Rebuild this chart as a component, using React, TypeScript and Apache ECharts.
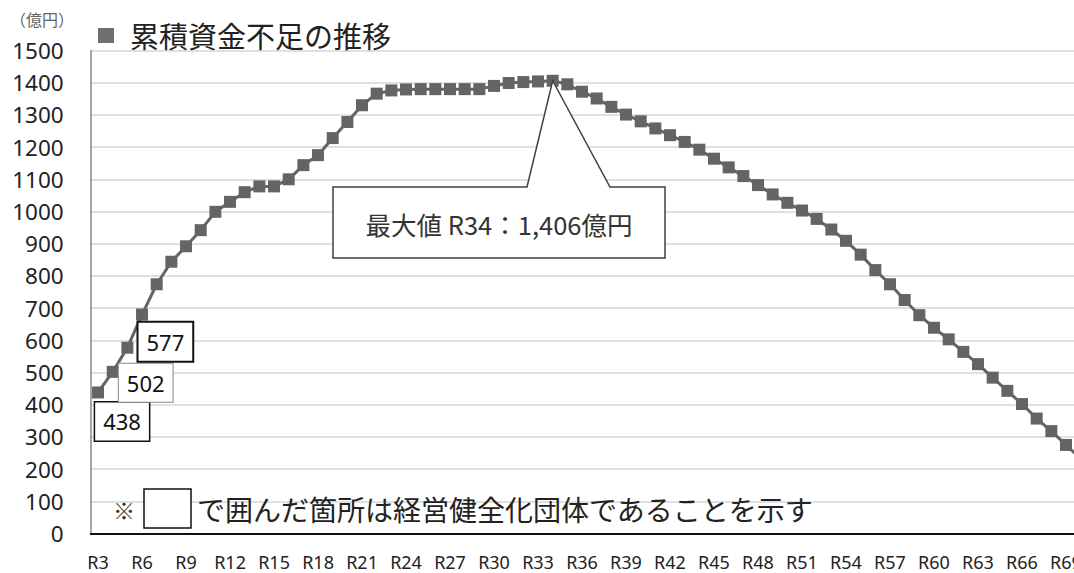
import React, { useEffect, useRef } from "react";
import * as echarts from "echarts";

const categories: string[] = [
  "R3","R4","R5","R6","R7","R8","R9","R10","R11","R12","R13","R14","R15","R16","R17","R18","R19","R20",
  "R21","R22","R23","R24","R25","R26","R27","R28","R29","R30","R31","R32","R33","R34","R35","R36","R37",
  "R38","R39","R40","R41","R42","R43","R44","R45","R46","R47","R48","R49","R50","R51","R52","R53","R54",
  "R55","R56","R57","R58","R59","R60","R61","R62","R63","R64","R65","R66","R67","R68","R69","R70",
];

const shortfall: number[] = [
  438, 502, 577, 680, 774, 844, 892, 942, 999, 1030, 1060, 1078, 1078, 1100, 1144, 1175, 1228, 1278,
  1330, 1366, 1376, 1379, 1380, 1380, 1380, 1380, 1380, 1390, 1399, 1402, 1404, 1406, 1395, 1372, 1351,
  1325, 1301, 1280, 1258, 1237, 1216, 1192, 1164, 1137, 1110, 1082, 1053, 1027, 1003, 977, 944, 909,
  866, 818, 774, 725, 678, 639, 603, 564, 526, 484, 443, 402, 357, 318, 275, 232,
];

const yTicks = { min: 0, max: 1500, interval: 100 };
const unitLabel = "（億円）";
const titleText = "累積資金不足の推移";
const peakCategory = "R34";
const peakValue = 1406;
const calloutText = "最大値 R34：1,406億円";
const noteText = "で囲んだ箇所は経営健全化団体であることを示す";

// labelled points (経営健全化団体)
const labelled: { cat: string; offset: [number, number]; border: string; bw: number }[] = [
  { cat: "R3", offset: [24, 29], border: "#111", bw: 1.5 },
  { cat: "R4", offset: [33, 11], border: "#888", bw: 1 },
  { cat: "R5", offset: [38, -6], border: "#111", bw: 2 },
];

export default function App() {
  const ref = useRef<HTMLDivElement>(null);
  useEffect(() => {
    if (!ref.current) return;
    const chart = echarts.init(ref.current, undefined, { renderer: "svg" });
    const data = shortfall.map((v, i) => {
      const lab = labelled.find((l) => l.cat === categories[i]);
      if (!lab) return v;
      return {
        value: v,
        label: {
          show: true,
          position: "inside",
          offset: lab.offset,
          formatter: "{c}",
          fontFamily: "Noto Sans",
          fontSize: 22,
          lineHeight: 24,
          color: "#111",
          backgroundColor: "#fff",
          borderColor: lab.border,
          borderWidth: lab.bw,
          padding: [7, 8, 7, 8],
        },
      };
    });
    const option: any = {
      animation: false,
      backgroundColor: "#fff",
      grid: { left: 90.7, right: -14, top: 50.5, bottom: 39.5, containLabel: false, outerBoundsMode: "none" },
      xAxis: {
        type: "category",
        data: categories,
        boundaryGap: true,
        axisLine: { show: true, lineStyle: { color: "#111", width: 2 } },
        axisTick: { show: false },
        axisLabel: {
          interval: 2,
          margin: 19,
          fontFamily: "Noto Sans",
          fontSize: 18,
          color: "#222",
        },
        splitLine: { show: false },
      },
      yAxis: {
        type: "value",
        min: yTicks.min,
        max: yTicks.max,
        interval: yTicks.interval,
        axisLine: { show: true, lineStyle: { color: "#888", width: 1.5 } },
        axisTick: { show: false },
        axisLabel: {
          margin: 27, fontFamily: "Noto Sans", fontSize: 22.5, color: "#222",
          formatter: (v: number) => String(v),
        },
        splitLine: { show: true, lineStyle: { color: "#d6d6d6", width: 1.5 } },
      },
      series: [
        {
          type: "line",
          data,
          symbol: "rect",
          symbolSize: 12,
          showSymbol: true,
          showAllSymbol: true,
          lineStyle: { color: "#646464", width: 3 },
          itemStyle: { color: "#646464" },
          label: { show: false },
          z: 3,
        },
      ],
    };
    chart.setOption(option);
    const tip = chart.convertToPixel({ xAxisIndex: 0, yAxisIndex: 0 }, [peakCategory, peakValue]) as number[];
    const bx0 = 333, bx1 = 665, by0 = 187, by1 = 258;
    chart.setOption({
      graphic: [
        { type: "text", left: 10, top: 11, style: { text: unitLabel, fontFamily: "Noto Sans CJK JP", fontSize: 16, fill: "#666" } },
        { type: "rect", shape: { x: 98, y: 28, width: 16, height: 15 }, style: { fill: "#707070" } },
        {
          type: "text", x: 130, y: 35,
          style: { text: titleText, fontFamily: "Noto Sans CJK JP", fontSize: 29, fill: "#222", verticalAlign: "middle" },
        },
        {
          type: "polygon",
          z: 10,
          shape: {
            points: [
              [bx0, by0], [527, by0], [tip[0], tip[1]], [610, by0], [bx1, by0], [bx1, by1], [bx0, by1],
            ],
          },
          style: { fill: "#fff", stroke: "#404040", lineWidth: 1.5 },
        },
        {
          type: "text", z: 11, x: (bx0 + bx1) / 2, y: (by0 + by1) / 2 + 1,
          style: {
            text: calloutText, fontFamily: "Noto Sans CJK JP", fontSize: 25.5, fill: "#333",
            align: "center", verticalAlign: "middle",
          },
        },
        {
          type: "text", x: 113, y: 509,
          style: { text: "※", fontFamily: "Noto Sans CJK JP", fontSize: 22, fill: "#333", verticalAlign: "middle" },
        },
        { type: "rect", z: 5, shape: { x: 144, y: 489, width: 47, height: 39 }, style: { fill: "#fff", stroke: "#111", lineWidth: 1.5 } },
        {
          type: "text", x: 197, y: 509,
          style: { text: noteText, fontFamily: "Noto Sans CJK JP", fontSize: 28, fill: "#222", verticalAlign: "middle" },
        },
      ],
    });
    return () => chart.dispose();
  }, []);
  return (
    <div
      ref={ref}
      style={{ position: "fixed", left: 0, top: 0, width: 1074, height: 573, background: "#fff" }}
    />
  );
}
